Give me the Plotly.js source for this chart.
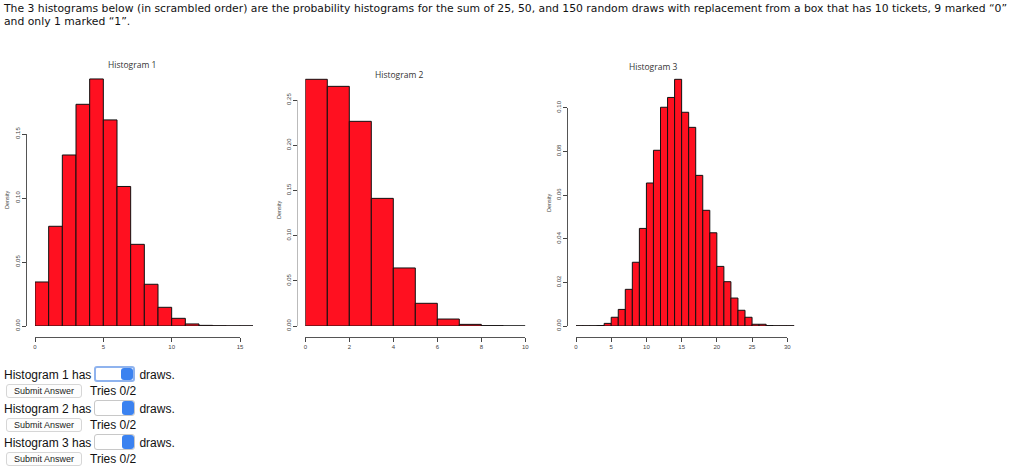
<!DOCTYPE html>
<html>
<head>
<meta charset="utf-8">
<script src="https://cdn.plot.ly/plotly-3.0.1.min.js"></script>
<style>
  html, body { margin: 0; padding: 0; background: #fff; }
  #wrap { position: relative; width: 1024px; height: 474px; overflow: hidden; }
  #chart { position: absolute; left: 0; top: 0; width: 1024px; height: 474px; }
  .q { position: absolute; left: 4px; font-family: "DejaVu Sans", Verdana, sans-serif; font-size: 10.8px; color: #111; white-space: nowrap; line-height: 13px; }
  .row { position: absolute; left: 4px; font-family: "Liberation Sans", Arial, sans-serif; font-size: 12px; color: #111; white-space: nowrap; height: 17px; line-height: 17px; }
  .sel { display: inline-block; position: relative; width: 39px; height: 14px; border: 1px solid #c8c8c8; border-radius: 3px; background: #fff; vertical-align: -3px; margin: 0 4px 0 3px; }
  .sel.focus { border: 2px solid #8fb3ee; width: 37px; height: 12px; }
  .sel .arr { position: absolute; right: 0; top: 0; width: 12px; height: 100%; background: #3b82f0; border-radius: 3px; }
  .btn { display: inline-block; font-family: "Liberation Sans", Arial, sans-serif; font-size: 9px; color: #222; border: 1px solid #d6d6d6; border-radius: 3px; background: #fdfdfd; padding: 0 7px; height: 12px; line-height: 12px; margin: 0 8px 0 2px; vertical-align: 1px; }
</style>
</head>
<body>
<div id="wrap">
  <div id="chart"></div>
  <div class="q" style="top:2px;">The 3 histograms below (in scrambled order) are the probability histograms for the sum of 25, 50, and 150 random draws with replacement from a box that has 10 tickets, 9 marked “0”</div>
  <div class="q" style="top:15px;">and only 1 marked “1”.</div>

  <div class="row" style="top:366px;">Histogram 1 has<span class="sel focus"><span class="arr"></span></span>draws.</div>
  <div class="row" style="top:383px;"><span class="btn">Submit Answer</span>Tries 0/2</div>
  <div class="row" style="top:400px;">Histogram 2 has<span class="sel"><span class="arr"></span></span>draws.</div>
  <div class="row" style="top:417px;"><span class="btn">Submit Answer</span>Tries 0/2</div>
  <div class="row" style="top:434px;">Histogram 3 has<span class="sel"><span class="arr"></span></span>draws.</div>
  <div class="row" style="top:451px;"><span class="btn">Submit Answer</span>Tries 0/2</div>
</div>
<script>
// ---------- data (bin left edges, unit-width bins; densities) ----------
const titles = ["Histogram 1", "Histogram 2", "Histogram 3"];

const edges1 = [0,1,2,3,4,5,6,7,8,9,10,11,12,13,14,15];
const density1 = [0.0344,0.0779,0.1336,0.1732,0.1930,0.1610,0.1090,0.0638,0.0326,0.0146,0.0060,0.0016,0.0005,0.0002,0.0001,0.0001];

const edges2 = [0,1,2,3,4,5,6,7,8,9];
const density2 = [0.2729,0.2651,0.2264,0.1412,0.0642,0.0251,0.0077,0.0018,0.0004,0.0001];

const edges3 = [0,1,2,3,4,5,6,7,8,9,10,11,12,13,14,15,16,17,18,19,20,21,22,23,24,25,26,27,28,29,30];
const density3 = [0.0001,0.0001,0.0001,0.0002,0.0012,0.0040,0.0076,0.0168,0.0292,0.0447,0.0655,0.0805,0.1002,0.1047,0.1130,0.0979,0.0910,0.0690,0.0530,0.0427,0.0273,0.0203,0.0128,0.0072,0.0040,0.0008,0.0008,0.0002,0.0001,0.0001,0.0001];

const xTicks1 = [0,5,10,15];
const xTicks2 = [0,2,4,6,8,10];
const xTicks3 = [0,5,10,15,20,25,30];
const yTicks1 = [0,0.05,0.10,0.15];
const yTicks2 = [0,0.05,0.10,0.15,0.20,0.25];
const yTicks3 = [0,0.02,0.04,0.06,0.08,0.10];

// ---------- layout helpers (pixel -> paper fraction) ----------
const W = 1024, H = 474;
const fx = p => p / W;
const fy = p => 1 - p / H;

const barColor = '#ff1020';
function bars(edges, dens, xa, ya) {
  return { type: 'bar', x: edges, y: dens, width: 1, offset: 0,
    xaxis: xa, yaxis: ya, hoverinfo: 'x+y',
    marker: { color: barColor, line: { color: '#111', width: 1 } } };
}
function dummy(xa, ya) {
  return { type: 'scatter', x: [], y: [], xaxis: xa, yaxis: ya, hoverinfo: 'skip', showlegend: false };
}

const hidden = { visible: false, fixedrange: true };
const tickFont = { family: 'Liberation Sans, Arial, sans-serif', size: 6, color: '#444' };
function dispX(dom, rng, vals, pos) {
  return { domain: dom, range: rng, anchor: 'free', position: pos, tickvals: vals,
    ticktext: vals.map(String), ticks: 'outside', ticklen: 4, tickwidth: 1, tickcolor: '#444',
    showline: true, linecolor: '#555', linewidth: 1, showgrid: false, zeroline: false,
    tickfont: tickFont, fixedrange: true };
}
function dispY(dom, rng, vals, pos, lc) {
  return { domain: dom, range: rng, anchor: 'free', position: pos, tickvals: vals,
    ticktext: vals.map(v => v.toFixed(2)), tickangle: -90, ticks: 'outside', ticklen: 4, tickwidth: 1, tickcolor: '#444',
    showline: true, linecolor: lc || '#555', linewidth: 1, showgrid: false, zeroline: false,
    tickfont: tickFont, fixedrange: true };
}

const data = [
  bars(edges1, density1, 'x', 'y'),
  bars(edges2, density2, 'x2', 'y2'),
  bars(edges3, density3, 'x3', 'y3'),
  dummy('x4', 'y4'), dummy('x5', 'y5'), dummy('x6', 'y6')
];

const titleFont = { family: 'Open Sans, Lato, sans-serif', size: 8.5, color: '#333' };
const labFont = { family: 'Liberation Sans, Arial, sans-serif', size: 5.5, color: '#444' };
function ann(text, px, py, font, angle) {
  return { text: text, xref: 'paper', yref: 'paper', x: fx(px), y: fy(py),
    xanchor: 'center', yanchor: 'middle', textangle: angle || 0, showarrow: false, font: font };
}

const layout = {
  width: W, height: H, margin: { l: 0, r: 0, t: 0, b: 0 },
  paper_bgcolor: 'rgba(0,0,0,0)', plot_bgcolor: 'rgba(0,0,0,0)',
  showlegend: false, bargap: 0,
  // data axes (hidden)
  xaxis:  Object.assign({ domain: [fx(35), fx(253)], range: [0, 218 / 13.667], anchor: 'y' }, hidden),
  yaxis:  Object.assign({ domain: [fy(326), fy(70)], range: [0, 256 / 1280], anchor: 'x' }, hidden),
  xaxis2: Object.assign({ domain: [fx(305.3), fx(525.3)], range: [0, 10], anchor: 'y2' }, hidden),
  yaxis2: Object.assign({ domain: [fy(326), fy(70)], range: [0, 256 / 904], anchor: 'x2' }, hidden),
  xaxis3: Object.assign({ domain: [fx(576), fx(794.3)], range: [0, 31], anchor: 'y3' }, hidden),
  yaxis3: Object.assign({ domain: [fy(326), fy(70)], range: [0, 256 / 2183], anchor: 'x3' }, hidden),
  // R-style display axes
  xaxis4: dispX([fx(35), fx(240)], [0, 15], xTicks1, fy(337)),
  yaxis4: dispY([fy(326), fy(134)], [0, 0.15], yTicks1, fx(26)),
  xaxis5: dispX([fx(305.3), fx(525.3)], [0, 10], xTicks2, fy(337)),
  yaxis5: dispY([fy(326), fy(100)], [0, 0.25], yTicks2, fx(297), '#bbb'),
  xaxis6: dispX([fx(576), fx(787.3)], [0, 30], xTicks3, fy(337)),
  yaxis6: dispY([fy(326), fy(107.7)], [0, 0.10], yTicks3, fx(567)),
  annotations: [
    ann(titles[0], 132, 64, titleFont),
    ann(titles[1], 399, 75, titleFont),
    ann(titles[2], 653, 67, titleFont),
    ann('Density', 7, 200, labFont, -90),
    ann('Density', 279, 210, labFont, -90),
    ann('Density', 549, 203, labFont, -90)
  ]
};

Plotly.newPlot('chart', data, layout, { displayModeBar: false, staticPlot: true });
</script>
</body>
</html>
